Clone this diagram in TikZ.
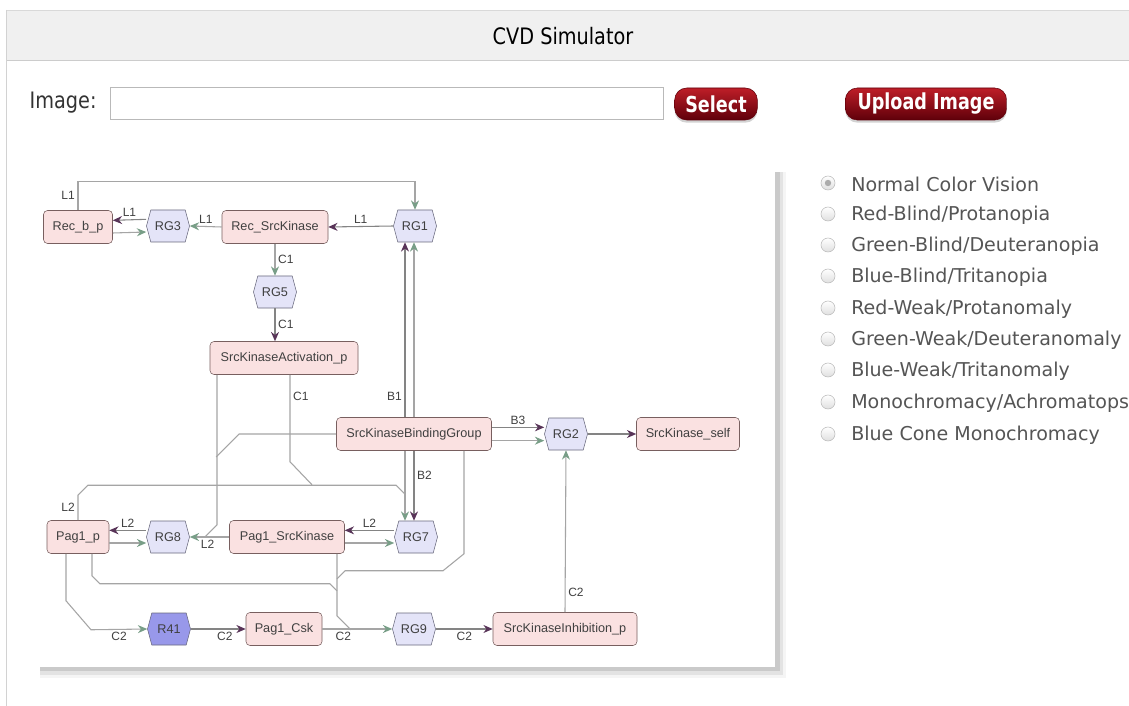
\documentclass[tikz,border=0pt]{standalone}
\usepackage{fontspec}
\setmainfont{Liberation Sans}
\newfontfamily\uifont{DejaVu Sans}
\newfontfamily\titlefont[FakeStretch=0.85]{DejaVu Sans}
\newfontfamily\btnfont[FakeStretch=0.8]{DejaVu Sans}
\usetikzlibrary{arrows.meta,positioning,shapes.symbols,shadows}
\definecolor{cvdpink}{RGB}{250,225,225}
\definecolor{cvdpinkline}{RGB}{120,95,95}
\definecolor{cvdlav}{RGB}{228,228,248}
\definecolor{cvdlavline}{RGB}{105,105,125}
\definecolor{cvdblue}{RGB}{152,152,234}
\definecolor{cvdpurple}{RGB}{88,52,88}
\definecolor{cvdgreen}{RGB}{120,158,135}
\definecolor{cvdwire}{RGB}{165,165,165}
\definecolor{cvdhead}{RGB}{240,240,240}
\definecolor{cvdbtntop}{RGB}{190,30,40}
\definecolor{cvdbtnbot}{RGB}{95,0,10}
\definecolor{cvdtext}{RGB}{85,85,85}

\begin{document}
\begin{tikzpicture}[x=0.75pt, y=-0.75pt,
  species/.style={draw=cvdpinkline, fill=cvdpink, rounded corners=3pt,
    minimum height=24.75pt, inner sep=1pt, font=\fontsize{9.5}{11}\selectfont, text=black!75},
  rgbox/.style={signal, signal to=east and west, signal pointer angle=150,
    draw=cvdlavline, fill=cvdlav, minimum width=32.25pt, minimum height=24pt,
    inner sep=1pt, font=\fontsize{9.5}{11}\selectfont, text=black!75},
  inh/.style={draw=cvdwire!80!black, line width=0.8pt, -{Stealth[length=7pt, width=6pt, color=cvdpurple]}},
  act/.style={draw=cvdwire, line width=0.8pt, -{Stealth[length=7pt, width=6pt, color=cvdgreen]}},
  wire/.style={draw=cvdwire, line width=0.8pt},
  lbl/.style={font=\fontsize{9}{10}\selectfont, text=black!75, inner sep=2pt},
  btn/.style={rounded corners=9pt, top color=cvdbtntop, bottom color=cvdbtnbot,
    draw=cvdbtnbot, minimum height=24pt, text=white,
    font=\btnfont\bfseries\fontsize{16.5}{18}\selectfont,
    drop shadow={shadow xshift=0pt, shadow yshift=-2pt, opacity=0.35}},
  radiobtn/.style={circle, draw=gray!55, top color=white, bottom color=gray!25,
    minimum size=10.5pt, inner sep=0pt},
  optlabel/.style={anchor=west, inner sep=0pt, text=cvdtext,
    font=\uifont\fontsize{14.3}{16}\selectfont}]
\useasboundingbox (0,0) rectangle (1129,706);
\fill[white] (0,0) rectangle (1129,706);
% Page frame and header
\fill[cvdhead] (6,10) rectangle (1129,60);
\draw[gray!30] (6,10) -- (1129,10);
\draw[gray!40] (6,60) -- (1129,60);
\draw[gray!35] (6,10) -- (6,706);
\node[font=\titlefont\fontsize{17}{20}\selectfont] (title) at (563,36) {CVD Simulator};
% Image chooser
\node[font=\titlefont\fontsize{17}{20}\selectfont, text=black!80, anchor=west] (imglabel) at (25,103) {Image:};
\node[draw=gray!55, fill=white, minimum width=414.75pt, minimum height=24pt, inner sep=0pt] (imgfield) at (386.5,103) {};
\node[btn, minimum width=62pt] (select) at (716,104) {Select};
\node[btn, minimum width=121pt] (upload) at (926,104) {Upload Image};
% Diagram panel with shadow
\fill[black, opacity=0.04] (40,172) rectangle (786,678);
\fill[black, opacity=0.07] (40,172) rectangle (783,675);
\fill[black, opacity=0.11] (40,172) rectangle (780,671);
\fill[white] (38,170) rectangle (775,667);
% Species and reaction nodes
\node[species, minimum width=51.75pt] (recbp) at (78,227) {Rec\_b\_p};
\node[rgbox] (rgthree) at (168,226) {RG3};
\node[species, minimum width=79.5pt] (recsrc) at (275,227) {Rec\_SrcKinase};
\node[rgbox] (rgone) at (415,226) {RG1};
\node[rgbox] (rgfive) at (275,292) {RG5};
\node[species, minimum width=111pt] (skact) at (284,358) {SrcKinaseActivation\_p};
\node[species, minimum width=116.25pt] (skbind) at (414,434) {SrcKinaseBindingGroup};
\node[rgbox] (rgtwo) at (566,434) {RG2};
\node[species, minimum width=77.25pt] (skself) at (688,434) {SrcKinase\_self};
\node[species, minimum width=46.5pt] (pagp) at (78,537) {Pag1\_p};
\node[rgbox] (rgeight) at (168,537) {RG8};
\node[species, minimum width=86.25pt] (pagsrc) at (287,537) {Pag1\_SrcKinase};
\node[rgbox] (rgseven) at (416,537) {RG7};
\node[rgbox, fill=cvdblue] (rfortyone) at (169,629) {R41};
\node[species, minimum width=57pt] (pagcsk) at (284,629) {Pag1\_Csk};
\node[rgbox] (rgnine) at (414,629) {RG9};
\node[species, minimum width=108pt] (skinh) at (565,629) {SrcKinaseInhibition\_p};
% Upper block
\draw[act] (recsrc.west) -- (rgthree.east) node[midway, above, lbl] {L1};
\draw[inh] ([yshift=5pt]rgthree.west) -- ([yshift=5pt]recbp.east) node[midway, above, lbl] {L1};
\draw[act] ([yshift=-4.5pt]recbp.east) -- ([yshift=-4.5pt]rgthree.west);
\draw[inh] (rgone.west) -- (recsrc.east) node[midway, above, lbl] {L1};
\draw[act] (recbp.north) -- ++(0,-29) node[midway, left, lbl] {L1} -| (rgone.north);
\draw[act] (recsrc.south) -- (rgfive.north) node[midway, right, lbl] {C1};
\draw[inh] (rgfive.south) -- (rgfive.south |- skact.north) node[midway, right, lbl] {C1};
% Binding group
\draw[inh] ([xshift=-6.75pt]skbind.north) -- ([xshift=-6.75pt]skbind.north |- rgone.south) node[pos=0.12, left, lbl] {B1};
\draw[act] (skbind.north) -- (skbind.north |- rgone.south);
\draw[inh] (skbind.south) -- (skbind.south |- rgseven.north) node[pos=0.35, right, lbl] {B2};
\draw[act] ([xshift=-6.75pt]skbind.south) -- ([xshift=-6.75pt]skbind.south |- rgseven.north);
\draw[inh] ([yshift=5pt]skbind.east) -- ([yshift=5pt]rgtwo.west) node[midway, above, lbl] {B3};
\draw[act] ([yshift=-5pt]skbind.east) -- ([yshift=-5pt]rgtwo.west);
\draw[inh] (rgtwo.east) -- (skself.west);
\draw[act] (skinh.north) -- (rgtwo.south) node[pos=0.12, right, lbl] {C2};
% Lines merging into RG7 and RG8
\draw[wire] ([xshift=4.5pt]skact.south) -- ++(0,87) node[pos=0.25, right, lbl] {C1} -- ++(22,23);
\draw[wire] (pagp.north) -- ++(0,-25) node[midway, left, lbl] {L2} -- ++(10,-10) -- ++(308,0) -- ++(9,9);
\draw[wire] ([xshift=-50.25pt]skact.south) -- ++(0,150) -- ++(-12,12);
\draw[wire] (skbind.west) -- ++(-97,0) -- ++(-23,23);
% Lower block
\draw[act] (pagsrc.west) -- (rgeight.east) node[pos=0.55, below, lbl] {L2};
\draw[inh] ([yshift=5pt]rgeight.west) -- ([yshift=5pt]pagp.east) node[midway, above, lbl] {L2};
\draw[act] ([yshift=-4.5pt]pagp.east) -- ([yshift=-4.5pt]rgeight.west);
\draw[inh] ([yshift=5pt]rgseven.west) -- ([yshift=5pt]pagsrc.east) node[midway, above, lbl] {L2};
\draw[act] ([yshift=-4.5pt]pagsrc.east) -- ([yshift=-4.5pt]rgseven.west);
\draw[act] ([xshift=-9pt]pagp.south) -- ++(0,47) -- ++(25,29) -- (rfortyone.west) node[midway, below, lbl] {C2};
\draw[inh] (rfortyone.east) -- (pagcsk.west) node[pos=0.62, below, lbl] {C2};
\draw[act] (pagcsk.east) -- (rgnine.west) node[pos=0.3, below, lbl] {C2};
\draw[inh] (rgnine.east) -- (skinh.west) node[midway, below, lbl] {C2};
% Lines merging into RG9
\draw[wire] ([xshift=37.5pt]pagsrc.south) -- ++(0,62) -- ++(14,14);
\draw[wire] ([xshift=10.5pt]pagp.south) -- ++(0,22) -- ++(8,8) -- ++(230,0) -- ++(7,7);
\draw[wire] ([xshift=37.5pt]skbind.south) -- ++(0,103) -- ++(-21,17) -- ++(-98,0) -- ++(-8,8);
% Vision options
\node[radiobtn] (b1) at (828,183) {};
\fill[gray!65] (b1.center) circle (2.4pt);
\node[radiobtn] (b2) at (828,214) {};
\node[radiobtn] (b3) at (828,245) {};
\node[radiobtn] (b4) at (828,276) {};
\node[radiobtn] (b5) at (828,308) {};
\node[radiobtn] (b6) at (828,339) {};
\node[radiobtn] (b7) at (828,370) {};
\node[radiobtn] (b8) at (828,402) {};
\node[radiobtn] (b9) at (828,434) {};
\node[optlabel] (o1) at (851,184) {Normal Color Vision};
\node[optlabel] (o2) at (851,215) {Red-Blind/Protanopia};
\node[optlabel] (o3) at (851,246) {Green-Blind/Deuteranopia};
\node[optlabel] (o4) at (851,277) {Blue-Blind/Tritanopia};
\node[optlabel] (o5) at (851,309) {Red-Weak/Protanomaly};
\node[optlabel] (o6) at (851,340) {Green-Weak/Deuteranomaly};
\node[optlabel] (o7) at (851,371) {Blue-Weak/Tritanomaly};
\node[optlabel] (o8) at (851,403) {Monochromacy/Achromatopsia};
\node[optlabel] (o9) at (851,435) {Blue Cone Monochromacy};
\end{tikzpicture}
\end{document}
